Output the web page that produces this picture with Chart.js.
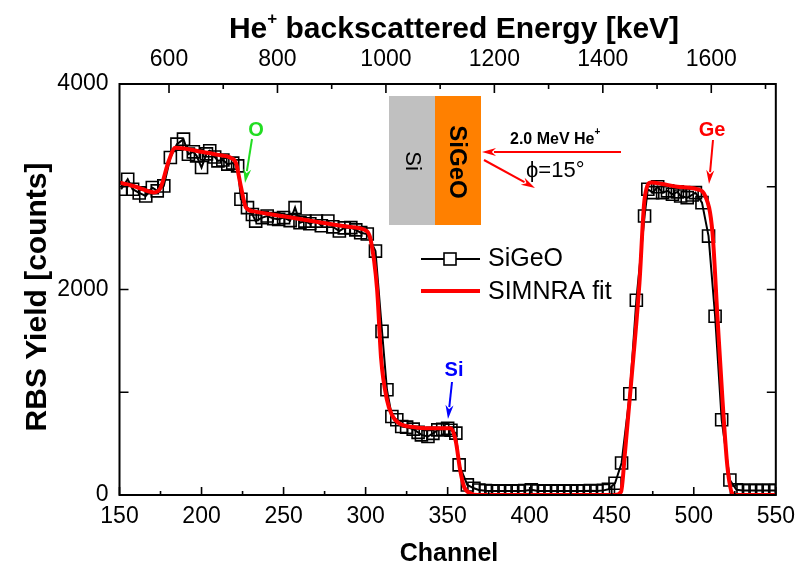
<!DOCTYPE html>
<html>
<head>
<meta charset="utf-8">
<script src="https://cdn.jsdelivr.net/npm/chart.js@4/dist/chart.umd.min.js"></script>
<style>
html,body{margin:0;padding:0;background:#fff;}
#wrap{width:803px;height:570px;position:relative;}
</style>
</head>
<body>
<div id="wrap"><canvas id="c" width="803" height="570"></canvas></div>
<script>
// ---- measured spectrum (open squares, black line) ----
const dataChannels = [
  151,155,158,162,166,170,173,177,181,185,
  189,192,195,197,200,203,205,208,210,213,
  216,219,222,224,228,231,233,237,240,244,
  247,250,254,257,260,263,266,270,273,277,
  280,284,287,291,294,297,301,306,310,313,
  316,319,322,325,329,332,334,338,341,344,
  347,350,352,355,357,362,366,369,373,377,
  381,385,389,393,397,401,405,409,413,417,
  421,425,429,433,437,441,445,448,452,456,
  461,465,470,472,475,478,481,484,487,490,
  492,496,499,501,505,509,513,517,522,526,
  530,534,538,542,546,550
];
const dataCounts = [
  2976,3073,2976,2940,2910,2992,2960,3008,3285,3415,
  3463,3317,3340,3301,3187,3320,3350,3290,3252,3260,
  3220,3230,3203,2878,2797,2730,2666,2700,2715,2690,
  2683,2700,2670,2797,2650,2666,2640,2666,2620,2666,
  2610,2569,2600,2602,2580,2553,2540,2374,1593,1024,
  764,732,667,660,641,610,585,569,600,634,
  640,650,630,602,293,98,65,49,42,40,
  38,40,38,40,42,50,40,38,40,38,
  40,38,40,40,42,40,45,55,114,312,
  985,1896,2715,2976,2943,3000,2943,2960,2927,2950,
  2910,2894,2920,2943,2845,2520,1740,732,146,50,
  45,45,45,45,45,45
];
// ---- SIMNRA simulation (red line) ----
const fitChannels = [
  150,160,171,175,180,184,190,200,210,218,
  221,224,227,232,250,270,290,300,303,307,
  309.5,313,316,320,330,340,352,355,357.6,360,
  364,368,452,455.7,458,461.8,466.9,470,474,480,
  490,502,507,511.4,514.4,517.5,520.5,523.5,526,550
];
const fitCounts = [
  3040,3000,2945,2990,3250,3380,3370,3340,3310,3280,
  3230,3000,2800,2760,2713,2660,2610,2575,2490,2000,
  1317,927,780,702,660,650,650,520,244,81,
  16,0,0,32,400,1090,2065,2878,3041,3030,
  3000,2976,2910,2553,1740,927,276,16,0,0
];
// ---- axes ----
const channelTicks = [150,200,250,300,350,400,450,500,550];
const channelMinorTicks = [175,225,275,325,375,425,475,525];
const energyTicks = [600,800,1000,1200,1400,1600];
const energyMinorTicks = [700,900,1100,1300,1500,1700];
const energyCalibration = [508.7, 1719]; // keV at channel 150 and at channel 550
const yieldTicks = [0,2000,4000];
const yieldMinorTicks = [1000,3000];
const seriesNames = ['SiGeO','SIMNRA fit'];

const FONT = "'Liberation Sans', Arial, sans-serif";

function pts(xs, ys){ return xs.map((x,i)=>({x:x, y:ys[i]})); }
const plain = v => String(v);

function arrow(ctx, x1, y1, x2, y2, color, lw, hl, hw){
  const ang = Math.atan2(y2-y1, x2-x1);
  const bx = x2 - hl*Math.cos(ang), by = y2 - hl*Math.sin(ang);
  ctx.save();
  ctx.strokeStyle = color; ctx.fillStyle = color; ctx.lineWidth = lw;
  ctx.beginPath(); ctx.moveTo(x1,y1); ctx.lineTo(bx + 2*Math.cos(ang), by + 2*Math.sin(ang)); ctx.stroke();
  ctx.beginPath();
  ctx.moveTo(x2,y2);
  ctx.lineTo(bx + hw*Math.sin(ang), by - hw*Math.cos(ang));
  ctx.lineTo(x2 - hl*0.7*Math.cos(ang), y2 - hl*0.7*Math.sin(ang));
  ctx.lineTo(bx - hw*Math.sin(ang), by + hw*Math.cos(ang));
  ctx.closePath(); ctx.fill();
  ctx.restore();
}

function supText(ctx, parts, x, y, align){
  ctx.save();
  let w = 0;
  parts.forEach(p=>{ ctx.font = p.f; p.w = ctx.measureText(p.t).width; w += p.w; });
  let cx = align === 'center' ? x - w/2 : x;
  ctx.textAlign = 'left'; ctx.textBaseline = 'alphabetic';
  parts.forEach(p=>{ ctx.font = p.f; ctx.fillText(p.t, cx, y + (p.dy||0)); cx += p.w; });
  ctx.restore();
}

const frameTicks = {
  id: 'frameTicks',
  afterDatasetsDraw(chart){
    const {ctx, chartArea: a, scales} = chart;
    const sx = scales.x, sx2 = scales.x2, sy = scales.y;
    ctx.save();
    ctx.strokeStyle = '#000';
    ctx.lineWidth = 1.6;
    ctx.beginPath();
    channelTicks.forEach(v=>{ const p = sx.getPixelForValue(v); ctx.moveTo(p,a.bottom); ctx.lineTo(p,a.bottom-8); });
    channelMinorTicks.forEach(v=>{ const p = sx.getPixelForValue(v); ctx.moveTo(p,a.bottom); ctx.lineTo(p,a.bottom-4); });
    energyTicks.forEach(v=>{ const p = sx2.getPixelForValue(v); ctx.moveTo(p,a.top); ctx.lineTo(p,a.top+9); });
    energyMinorTicks.forEach(v=>{ const p = sx2.getPixelForValue(v); ctx.moveTo(p,a.top); ctx.lineTo(p,a.top+5); });
    yieldTicks.concat(yieldMinorTicks).forEach(v=>{
      const p = sy.getPixelForValue(v);
      ctx.moveTo(a.left,p); ctx.lineTo(a.left+9,p);
      ctx.moveTo(a.right,p); ctx.lineTo(a.right-9,p);
    });
    ctx.stroke();
    ctx.lineWidth = 2;
    ctx.strokeRect(a.left, a.top, a.right-a.left, a.bottom-a.top);
    ctx.restore();
  }
};

const annotations = {
  id: 'annotations',
  afterDraw(chart){
    const ctx = chart.ctx;
    ctx.save();
    // axis titles
    ctx.fillStyle = '#000';
    supText(ctx, [
      {t:'He', f:"bold 30px "+FONT},
      {t:'+', f:"bold 17px "+FONT, dy:-14},
      {t:' backscattered Energy [keV]', f:"bold 30px "+FONT}
    ], 454, 38, 'center');
    ctx.font = "bold 25px "+FONT;
    ctx.textAlign = 'center'; ctx.textBaseline = 'alphabetic';
    ctx.fillText('Channel', 449, 561);
    ctx.save();
    ctx.translate(38, 297); ctx.rotate(-Math.PI/2);
    ctx.font = "bold 30px "+FONT; ctx.textBaseline = 'middle';
    ctx.fillText('RBS Yield [counts]', 0, 0);
    ctx.restore();

    // inset sample sketch
    ctx.fillStyle = '#c0c0c0'; ctx.fillRect(389, 96, 46, 129);
    ctx.fillStyle = '#ff8000'; ctx.fillRect(435, 96, 46, 129);
    ctx.fillStyle = '#000';
    ctx.save(); ctx.translate(412, 161); ctx.rotate(Math.PI/2);
    ctx.font = "22px "+FONT; ctx.textAlign='center'; ctx.textBaseline='middle';
    ctx.fillText('Si', 0, 0); ctx.restore();
    ctx.save(); ctx.translate(457, 162); ctx.rotate(Math.PI/2);
    ctx.font = "bold 24px "+FONT; ctx.textAlign='center'; ctx.textBaseline='middle';
    ctx.fillText('SiGeO', 0, 0); ctx.restore();
    arrow(ctx, 621, 152, 482, 152, '#ff0000', 2, 14, 4);
    arrow(ctx, 484, 160, 535, 188, '#ff0000', 2, 14, 4);
    ctx.fillStyle = '#000';
    supText(ctx, [
      {t:'2.0 MeV He', f:"bold 16px "+FONT},
      {t:'+', f:"bold 10px "+FONT, dy:-9}
    ], 510, 144, 'left');
    ctx.font = "22px 'Liberation Sans', 'DejaVu Sans', sans-serif";
    ctx.textAlign = 'left'; ctx.textBaseline = 'middle';
    ctx.fillText('\u03D5=15\u00B0', 526, 171);

    // element markers
    ctx.textAlign = 'center'; ctx.textBaseline = 'middle';
    ctx.font = "bold 20px "+FONT;
    ctx.fillStyle = '#22dd22'; ctx.fillText('O', 256, 130);
    arrow(ctx, 252, 139, 245, 183, '#22dd22', 2, 14, 4);
    ctx.fillStyle = '#0000ff'; ctx.fillText('Si', 454, 370);
    arrow(ctx, 452, 382, 448, 419, '#0000ff', 2, 14, 4);
    ctx.fillStyle = '#ff0000'; ctx.fillText('Ge', 712, 130);
    arrow(ctx, 713, 140, 709, 184, '#ff0000', 2, 14, 4);

    // legend
    ctx.strokeStyle = '#000'; ctx.lineWidth = 2;
    ctx.beginPath(); ctx.moveTo(421, 259); ctx.lineTo(480, 259); ctx.stroke();
    ctx.fillStyle = '#fff'; ctx.fillRect(444, 253, 12, 12);
    ctx.lineWidth = 1.6; ctx.strokeRect(444, 253, 12, 12);
    ctx.strokeStyle = '#ff0000'; ctx.lineWidth = 4;
    ctx.beginPath(); ctx.moveTo(421, 291); ctx.lineTo(480, 291); ctx.stroke();
    ctx.fillStyle = '#000'; ctx.font = "25px "+FONT;
    ctx.textAlign = 'left'; ctx.textBaseline = 'middle';
    ctx.fillText(seriesNames[0], 488, 259);
    ctx.fillText(seriesNames[1], 488, 292);
    ctx.restore();
  }
};

new Chart(document.getElementById('c'), {
  type: 'line',
  data: {
    datasets: [
      {
        label: seriesNames[0],
        data: pts(dataChannels, dataCounts),
        xAxisID: 'x', yAxisID: 'y',
        borderColor: '#000', borderWidth: 2,
        pointStyle: 'rect', pointRadius: 8.5, pointBorderWidth: 1.6,
        pointBorderColor: '#000', pointBackgroundColor: 'rgba(255,255,255,0)',
        tension: 0, order: 2
      },
      {
        label: seriesNames[1],
        data: pts(fitChannels, fitCounts),
        xAxisID: 'x', yAxisID: 'y',
        borderColor: '#ff0000', borderWidth: 4,
        pointRadius: 0, cubicInterpolationMode: 'monotone',
        order: 1
      }
    ]
  },
  options: {
    responsive: false,
    animation: false,
    devicePixelRatio: 1,
    layout: { padding: { left: 0, right: 23, top: 0, bottom: 0 } },
    plugins: { legend: { display: false }, tooltip: { enabled: false } },
    scales: {
      x: {
        type: 'linear', position: 'bottom', min: 150, max: 550,
        afterBuildTicks: s => { s.ticks = channelTicks.map(v=>({value:v})); },
        afterFit: s => { s.height = 75; },
        grid: { display: false, drawTicks: false },
        border: { display: false },
        ticks: { font: { family: FONT, size: 23 }, color: '#000', padding: 8, maxRotation: 0, callback: plain }
      },
      x2: {
        type: 'linear', position: 'top', min: energyCalibration[0], max: energyCalibration[1],
        afterBuildTicks: s => { s.ticks = energyTicks.map(v=>({value:v})); },
        afterFit: s => { s.height = 84; },
        grid: { display: false, drawTicks: false },
        border: { display: false },
        ticks: { font: { family: FONT, size: 23 }, color: '#000', padding: 11, maxRotation: 0, callback: plain }
      },
      y: {
        type: 'linear', position: 'left', min: 0, max: 4000,
        afterBuildTicks: s => { s.ticks = yieldTicks.map(v=>({value:v})); },
        afterFit: s => { s.width = 119.5; },
        grid: { display: false, drawTicks: false },
        border: { display: false },
        ticks: { font: { family: FONT, size: 23 }, color: '#000', padding: 11, callback: plain }
      }
    }
  },
  plugins: [frameTicks, annotations]
});
</script>
</body>
</html>
